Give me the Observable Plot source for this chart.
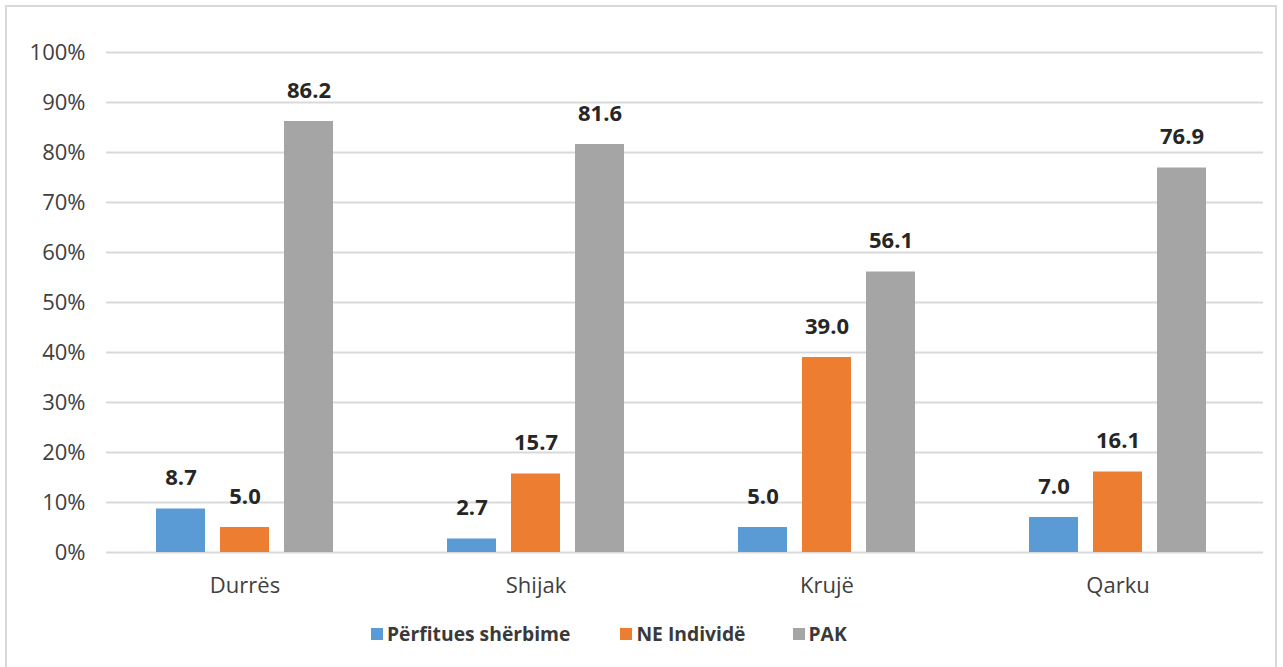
<!DOCTYPE html>
<html><head><meta charset="utf-8">
<script src="https://cdn.jsdelivr.net/npm/d3@7"></script>
<script src="https://cdn.jsdelivr.net/npm/@observablehq/plot@0.6"></script>
<style>
body{margin:0;background:#fff;font-family:"Open Sans",sans-serif;width:1283px;height:667px;overflow:hidden;position:relative;}
#frame{position:absolute;left:5px;top:5px;width:1272px;height:700px;border:2px solid #d9d9d9;box-sizing:border-box;}
#chart{position:absolute;left:0;top:0;}
#legend{position:absolute;left:371px;top:620px;display:flex;align-items:center;font-weight:bold;font-size:19.3px;color:#3a3a3a;}
#legend .item{display:flex;align-items:center;}
#legend .sw{width:12px;height:12px;margin-right:4px;}
</style></head>
<body>
<div id="frame"></div>
<div id="chart"></div>
<div id="legend"></div>
<script>
const categories = ["Durrës", "Shijak", "Krujë", "Qarku"];
const seriesNames = ["Përfitues shërbime", "NE Individë", "PAK"];
const perfitues = [8.7, 2.7, 5.0, 7.0];
const neIndivide = [5.0, 15.7, 39.0, 16.1];
const pak = [86.2, 81.6, 56.1, 76.9];
const colors = ["#5B9BD5", "#ED7D31", "#A5A5A5"];
const yTicks = [0, 10, 20, 30, 40, 50, 60, 70, 80, 90, 100];

const seriesValues = [perfitues, neIndivide, pak];
const rows = [];
categories.forEach((c, i) => {
  seriesNames.forEach((s, j) => rows.push({cat: c, series: s, value: seriesValues[j][i]}));
});
const gridFirst = yTicks.map(t => ({cat: categories[0], tick: t}));
const gridRest = categories.slice(1).flatMap(c => yTicks.map(t => ({cat: c, tick: t})));

const chart = Plot.plot({
  width: 1283,
  height: 610,
  marginLeft: 98,
  marginRight: 19,
  marginTop: 52,
  marginBottom: 58,
  style: {fontFamily: "'Open Sans', sans-serif", fontSize: "22px", color: "#404040", background: "transparent"},
  fx: {domain: categories, padding: 0, label: null, axis: "bottom", tickSize: 0, tickPadding: 25},
  x: {domain: seriesNames, axis: null, paddingInner: 0.23, paddingOuter: 0.855},
  y: {domain: [0, 100], axis: null},
  color: {domain: seriesNames, range: colors},
  marks: [
    Plot.ruleY(gridFirst, {fx: "cat", y: "tick", stroke: "#d9d9d9", strokeWidth: 2, insetLeft: 7}),
    Plot.ruleY(gridRest, {fx: "cat", y: "tick", stroke: "#d9d9d9", strokeWidth: 2}),
    Plot.axisY({ticks: yTicks, tickFormat: d => d + "%", tickSize: 0, tickPadding: 14, label: null, fill: "#404040"}),
    Plot.barY(rows, {fx: "cat", x: "series", y: "value", fill: "series"}),
    Plot.text(rows, {fx: "cat", x: "series", y: "value", text: d => d.value.toFixed(1), dy: -31, lineAnchor: "middle", fontSize: 22, fontWeight: "bold", fill: "#262626"})
  ]
});
document.getElementById("chart").appendChild(chart);

const legend = document.getElementById("legend");
const gaps = [50, 47, 0];
seriesNames.forEach((s, j) => {
  const it = document.createElement("div");
  it.className = "item";
  it.style.marginRight = gaps[j] + "px";
  const sw = document.createElement("span");
  sw.className = "sw";
  sw.style.background = colors[j];
  const t = document.createElement("span");
  t.textContent = s;
  it.appendChild(sw); it.appendChild(t);
  legend.appendChild(it);
});
</script>
</body></html>
